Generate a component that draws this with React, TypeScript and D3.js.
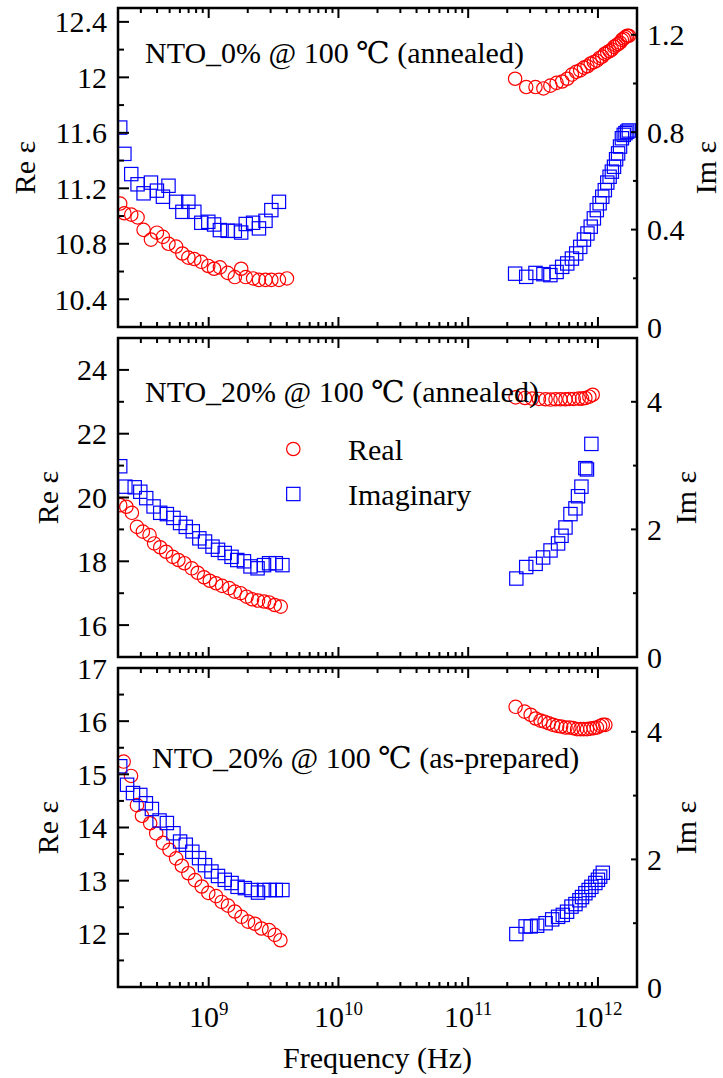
import React from 'react';
import * as d3 from 'd3';

// ---------- Data (frequencies: low band in GHz, high band in THz) ----------
// Panel 1: NTO_0% @ 100 ℃ (annealed)
const p1LowF = [0.208, 0.224, 0.253, 0.283, 0.315, 0.359, 0.399, 0.444, 0.490, 0.561, 0.627, 0.697, 0.775, 0.877, 0.993, 1.10, 1.22, 1.40, 1.59, 1.78, 1.93, 2.20, 2.44, 2.74, 3.04, 3.48, 4.01];
const p1LowRe = [11.09, 11.02, 11.01, 10.99, 10.90, 10.83, 10.88, 10.85, 10.80, 10.78, 10.73, 10.70, 10.69, 10.67, 10.64, 10.62, 10.63, 10.59, 10.56, 10.62, 10.56, 10.55, 10.54, 10.54, 10.54, 10.54, 10.55];
const p1LowIm = [0.819, 0.711, 0.628, 0.586, 0.549, 0.593, 0.560, 0.535, 0.580, 0.514, 0.473, 0.514, 0.473, 0.428, 0.432, 0.421, 0.398, 0.395, 0.395, 0.388, 0.423, 0.428, 0.405, 0.436, 0.480, 0.514];
const p1HighF = [0.23, 0.28, 0.33, 0.38, 0.43, 0.48, 0.53, 0.58, 0.63, 0.68, 0.73, 0.78, 0.83, 0.88, 0.93, 0.98, 1.03, 1.08, 1.13, 1.18, 1.23, 1.28, 1.33, 1.38, 1.43, 1.48, 1.53, 1.58, 1.63, 1.68, 1.73];
const p1HighRe = [11.99, 11.93, 11.93, 11.92, 11.94, 11.96, 11.97, 11.99, 12.02, 12.04, 12.05, 12.07, 12.08, 12.10, 12.11, 12.12, 12.14, 12.15, 12.17, 12.18, 12.19, 12.20, 12.22, 12.23, 12.24, 12.25, 12.27, 12.28, 12.29, 12.30, 12.30];
const p1HighIm = [0.219, 0.206, 0.222, 0.217, 0.213, 0.226, 0.247, 0.261, 0.281, 0.302, 0.329, 0.359, 0.384, 0.412, 0.446, 0.480, 0.508, 0.535, 0.562, 0.593, 0.617, 0.638, 0.658, 0.689, 0.713, 0.741, 0.775, 0.789, 0.796, 0.802, 0.807];

// Panel 2: NTO_20% @ 100 ℃ (annealed)
const p2LowReF = [0.208, 0.232, 0.256, 0.280, 0.311, 0.350, 0.380, 0.423, 0.470, 0.529, 0.584, 0.650, 0.741, 0.823, 0.920, 1.02, 1.14, 1.27, 1.44, 1.59, 1.76, 1.96, 2.16, 2.40, 2.67, 2.92, 3.23, 3.59];
const p2LowRe = [19.76, 19.71, 19.52, 19.08, 18.93, 18.82, 18.56, 18.44, 18.30, 18.14, 18.04, 17.94, 17.78, 17.64, 17.50, 17.39, 17.31, 17.23, 17.16, 17.05, 17.00, 16.89, 16.81, 16.77, 16.74, 16.71, 16.63, 16.58];
const p2LowImF = [0.208, 0.228, 0.269, 0.297, 0.330, 0.376, 0.423, 0.476, 0.535, 0.602, 0.666, 0.754, 0.847, 0.937, 1.07, 1.18, 1.33, 1.50, 1.66, 1.87, 2.10, 2.38, 2.67, 2.92, 3.29, 3.70];
const p2LowIm = [2.99, 2.67, 2.66, 2.59, 2.49, 2.36, 2.26, 2.24, 2.18, 2.10, 2.04, 1.97, 1.86, 1.81, 1.73, 1.68, 1.63, 1.57, 1.52, 1.50, 1.42, 1.39, 1.44, 1.47, 1.47, 1.44];
const p2HighReF = [0.232, 0.274, 0.311, 0.351, 0.395, 0.431, 0.471, 0.514, 0.562, 0.603, 0.651, 0.711, 0.754, 0.800, 0.859, 0.911];
const p2HighRe = [23.14, 23.12, 23.10, 23.09, 23.08, 23.07, 23.08, 23.08, 23.08, 23.09, 23.09, 23.10, 23.10, 23.12, 23.16, 23.22];
const p2HighImF = [0.235, 0.280, 0.331, 0.378, 0.431, 0.493, 0.524, 0.562, 0.614, 0.671, 0.702, 0.746, 0.800, 0.823, 0.890];
const p2HighIm = [1.23, 1.41, 1.46, 1.56, 1.67, 1.78, 1.90, 2.03, 2.24, 2.33, 2.52, 2.67, 2.96, 2.94, 3.34];

// Panel 3: NTO_20% @ 100 ℃ (as-prepared)
const p3LowReF = [0.221, 0.252, 0.280, 0.306, 0.354, 0.394, 0.444, 0.498, 0.561, 0.621, 0.697, 0.785, 0.884, 0.993, 1.14, 1.26, 1.41, 1.59, 1.79, 2.01, 2.27, 2.55, 2.92, 3.23, 3.57];
const p3LowRe = [15.24, 14.97, 14.42, 14.22, 14.08, 13.89, 13.71, 13.58, 13.42, 13.28, 13.14, 13.01, 12.89, 12.77, 12.71, 12.60, 12.53, 12.42, 12.32, 12.23, 12.19, 12.10, 12.07, 11.98, 11.88];
const p3LowImF = [0.208, 0.235, 0.261, 0.297, 0.328, 0.365, 0.418, 0.476, 0.535, 0.602, 0.666, 0.748, 0.843, 0.937, 1.05, 1.18, 1.33, 1.50, 1.67, 1.90, 2.14, 2.40, 2.67, 2.95, 3.29, 3.70];
const p3LowIm = [3.46, 3.17, 3.04, 3.01, 2.88, 2.79, 2.61, 2.57, 2.41, 2.28, 2.23, 2.12, 2.02, 1.91, 1.81, 1.74, 1.68, 1.63, 1.57, 1.55, 1.52, 1.48, 1.52, 1.52, 1.52, 1.52];
const p3HighReF = [0.232, 0.272, 0.303, 0.331, 0.361, 0.388, 0.418, 0.451, 0.485, 0.520, 0.562, 0.603, 0.643, 0.690, 0.733, 0.777, 0.823, 0.874, 0.927, 0.982, 1.04, 1.09, 1.14];
const p3HighRe = [16.27, 16.18, 16.12, 16.05, 16.01, 15.99, 15.96, 15.93, 15.91, 15.90, 15.88, 15.88, 15.87, 15.85, 15.85, 15.85, 15.85, 15.86, 15.87, 15.88, 15.91, 15.93, 15.93];
const p3HighImF = [0.235, 0.277, 0.303, 0.340, 0.395, 0.444, 0.493, 0.536, 0.578, 0.625, 0.671, 0.720, 0.754, 0.800, 0.848, 0.890, 0.955, 1.00, 1.04, 1.09];
const p3HighIm = [0.83, 0.95, 0.95, 0.96, 1.00, 1.06, 1.10, 1.13, 1.18, 1.26, 1.30, 1.36, 1.41, 1.47, 1.52, 1.57, 1.63, 1.68, 1.73, 1.79];

// Axes
const xDomain = [2e8, 2e12];
const xLabelValues = [1e9, 1e10, 1e11, 1e12];
const xLabelExponents = ['9', '10', '11', '12'];
const p1LeftDomain = [10.2, 12.5];
const p1LeftLabels = [10.4, 10.8, 11.2, 11.6, 12, 12.4];
const p1RightDomain = [0, 1.31];
const p1RightLabels = [0, 0.4, 0.8, 1.2];
const p2LeftDomain = [15, 25];
const p2LeftLabels = [16, 18, 20, 22, 24];
const p2RightDomain = [0, 5];
const p2RightLabels = [0, 2, 4];
const p3LeftDomain = [11, 17];
const p3LeftLabels = [12, 13, 14, 15, 16, 17];
const p3RightDomain = [0, 5];
const p3RightLabels = [0, 2, 4];

const titles = [
  'NTO_0% @ 100 \u2103 (annealed)',
  'NTO_20% @ 100 \u2103 (annealed)',
  'NTO_20% @ 100 \u2103 (as-prepared)',
];
const legendLabels = ['Real', 'Imaginary'];

// ---------- Layout ----------
const W = 723;
const H = 1078;
const RED = '#ff0000';
const BLUE = '#0000ff';
const FONT = "'Liberation Serif', 'DejaVu Serif', 'Times New Roman', serif";
const FS = 30;
const PL = 118;
const PR = 637;
const PH = 319;
const panelTops = [8, 338, 668];
const R = 6.7;
const SQ = 13.3;

type Pt = [number, number];
const zip = (f: number[], v: number[], unit: number): Pt[] => v.map((y, i) => [f[i] * unit, y]);

interface Series { pts: Pt[]; axis: 'L' | 'R'; shape: 'c' | 's'; }
interface Panel {
  leftDomain: number[]; leftLabels: number[]; leftMinor: number;
  rightDomain: number[]; rightLabels: number[]; rightMinor: number;
  title: string; titleX: number; titleDy: number;
  reX: number; imX: number;
  series: Series[];
}

const GHz = 1e9;
const THz = 1e12;

const panels: Panel[] = [
  {
    leftDomain: p1LeftDomain, leftLabels: p1LeftLabels, leftMinor: 12,
    rightDomain: p1RightDomain, rightLabels: p1RightLabels, rightMinor: 7,
    title: titles[0], titleX: 145, titleDy: 55, reX: 35, imX: 716,
    series: [
      { pts: zip(p1LowF, p1LowRe, GHz), axis: 'L', shape: 'c' },
      { pts: zip(p1LowF, p1LowIm, GHz), axis: 'R', shape: 's' },
      { pts: zip(p1HighF, p1HighRe, THz), axis: 'L', shape: 'c' },
      { pts: zip(p1HighF, p1HighIm, THz), axis: 'R', shape: 's' },
    ],
  },
  {
    leftDomain: p2LeftDomain, leftLabels: p2LeftLabels, leftMinor: 10,
    rightDomain: p2RightDomain, rightLabels: p2RightLabels, rightMinor: 5,
    title: titles[1], titleX: 145, titleDy: 64, reX: 58, imX: 696,
    series: [
      { pts: zip(p2LowReF, p2LowRe, GHz), axis: 'L', shape: 'c' },
      { pts: zip(p2LowImF, p2LowIm, GHz), axis: 'R', shape: 's' },
      { pts: zip(p2HighReF, p2HighRe, THz), axis: 'L', shape: 'c' },
      { pts: zip(p2HighImF, p2HighIm, THz), axis: 'R', shape: 's' },
    ],
  },
  {
    leftDomain: p3LeftDomain, leftLabels: p3LeftLabels, leftMinor: 12,
    rightDomain: p3RightDomain, rightLabels: p3RightLabels, rightMinor: 5,
    title: titles[2], titleX: 152, titleDy: 100, reX: 58, imX: 696,
    series: [
      { pts: zip(p3LowReF, p3LowRe, GHz), axis: 'L', shape: 'c' },
      { pts: zip(p3LowImF, p3LowIm, GHz), axis: 'R', shape: 's' },
      { pts: zip(p3HighReF, p3HighRe, THz), axis: 'L', shape: 'c' },
      { pts: zip(p3HighImF, p3HighIm, THz), axis: 'R', shape: 's' },
    ],
  },
];

const x = d3.scaleLog().domain(xDomain).range([PL, PR]);
const xTicks = x.ticks();
const isDecade = (v: number) => Math.abs(Math.log10(v) - Math.round(Math.log10(v))) < 1e-6;
const fmt = (v: number) => String(+v.toFixed(2));

function Marker({ cx, cy, shape }: { cx: number; cy: number; shape: 'c' | 's' }) {
  if (shape === 'c') return <circle cx={cx} cy={cy} r={R} fill="none" stroke={RED} strokeWidth={1.2} />;
  return <rect x={cx - SQ / 2} y={cy - SQ / 2} width={SQ} height={SQ} fill="none" stroke={BLUE} strokeWidth={1.2} />;
}

const textStyle: React.CSSProperties = { fontFamily: FONT, fontSize: FS };

function PanelView({ p, i, showX }: { p: Panel; i: number; showX: boolean }) {
  const top = panelTops[i];
  const bottom = top + PH;
  const yL = d3.scaleLinear().domain(p.leftDomain).range([bottom, top]);
  const yR = d3.scaleLinear().domain(p.rightDomain).range([bottom, top]);
  const leftMinor = yL.ticks(p.leftMinor);
  const rightMinor = yR.ticks(p.rightMinor);
  const isLabel = (arr: number[], v: number) => arr.some((a) => Math.abs(a - v) < 1e-9);
  const clipId = `clip${i}`;
  const midY = (top + bottom) / 2;
  return (
    <g>
      <defs>
        <clipPath id={clipId}>
          <rect x={PL} y={top} width={PR - PL} height={PH} />
        </clipPath>
      </defs>
      <g clipPath={`url(#${clipId})`}>
        {p.series.map((s, si) =>
          s.pts.map((d, k) => (
            <Marker key={`${si}-${k}`} cx={x(d[0])} cy={(s.axis === 'L' ? yL : yR)(d[1])} shape={s.shape} />
          ))
        )}
      </g>
      {xTicks.map((t, k) => {
        const len = isDecade(t) ? 10 : 5;
        const xx = x(t);
        return (
          <g key={`xt${k}`} stroke="#000" strokeWidth={2}>
            <line x1={xx} x2={xx} y1={bottom} y2={bottom - len} />
            <line x1={xx} x2={xx} y1={top} y2={top + len} />
          </g>
        );
      })}
      {leftMinor.map((t, k) => {
        const len = isLabel(p.leftLabels, t) ? 11 : 6;
        return <line key={`lt${k}`} x1={PL} x2={PL + len} y1={yL(t)} y2={yL(t)} stroke="#000" strokeWidth={2} />;
      })}
      {rightMinor.map((t, k) => {
        const len = isLabel(p.rightLabels, t) ? 6 : 4;
        return <line key={`rt${k}`} x1={PR} x2={PR - len} y1={yR(t)} y2={yR(t)} stroke="#000" strokeWidth={2} />;
      })}
      <rect x={PL} y={top} width={PR - PL} height={PH} fill="none" stroke="#000" strokeWidth={2.5} />
      <g style={textStyle} fill="#000">
        {p.leftLabels.map((v, k) => (
          <text key={`ll${k}`} x={107} y={yL(v)} dy="0.35em" textAnchor="end" style={textStyle}>{fmt(v)}</text>
        ))}
        {p.rightLabels.map((v, k) => (
          <text key={`rl${k}`} x={647} y={yR(v)} dy="0.35em" textAnchor="start" style={textStyle}>{fmt(v)}</text>
        ))}
        <text x={p.titleX} y={top + p.titleDy} style={textStyle}>{p.title}</text>
        <text transform={`translate(${p.reX},${midY}) rotate(-90)`} textAnchor="middle" style={textStyle}>Re ε</text>
        <text transform={`translate(${p.imX},${midY}) rotate(-90)`} textAnchor="middle" style={textStyle}>Im ε</text>
        {showX &&
          xLabelValues.map((v, k) => (
            <text key={`xl${k}`} x={x(v)} y={1027} textAnchor="middle" style={textStyle}>
              10<tspan style={{ fontSize: 19 }} dy={-12}>{xLabelExponents[k]}</tspan>
            </text>
          ))}
      </g>
    </g>
  );
}

export default function App() {
  return (
    <svg width={W} height={H} viewBox={`0 0 ${W} ${H}`} style={{ position: 'absolute', left: 0, top: 0, background: '#fff' }}>
      <rect width={W} height={H} fill="#fff" />
      {panels.map((p, i) => (
        <PanelView key={i} p={p} i={i} showX={i === 2} />
      ))}
      <g>
        <Marker cx={293.3} cy={449} shape="c" />
        <text x={348} y={460} style={textStyle}>{legendLabels[0]}</text>
        <Marker cx={293.3} cy={494} shape="s" />
        <text x={348} y={505} style={textStyle}>{legendLabels[1]}</text>
      </g>
      <text x={(PL + PR) / 2} y={1068} textAnchor="middle" style={textStyle}>Frequency (Hz)</text>
    </svg>
  );
}
